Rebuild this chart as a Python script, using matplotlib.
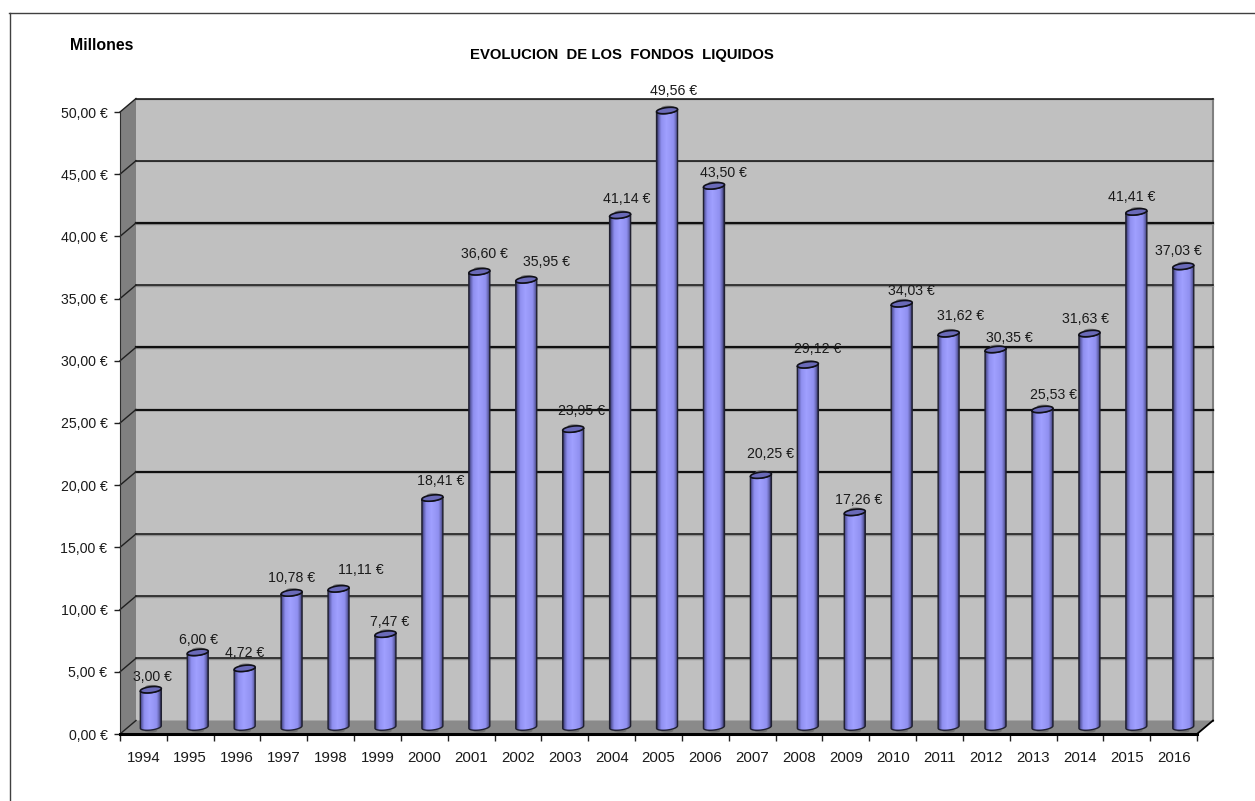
import numpy as np
import matplotlib
matplotlib.use('Agg')
import matplotlib.pyplot as plt
from matplotlib.colors import LinearSegmentedColormap
from matplotlib.patches import Ellipse, PathPatch, Polygon
from matplotlib.path import Path

plt.rcParams['font.family'] = ['Liberation Sans', 'DejaVu Sans']

years = list(range(1994, 2017))
fondos = [3.00, 6.00, 4.72, 10.78, 11.11, 7.47, 18.41, 36.60, 35.95, 23.95, 41.14, 49.56,
          43.50, 20.25, 29.12, 17.26, 34.03, 31.62, 30.35, 25.53, 31.63, 41.41, 37.03]

# labels were moved by hand in the original, pixels from the cylinder top
label_dx = [2, 1, 0, 0, 22, 4, 8, 5, 20, 8, 7, 7, 9, 10, 10, 4, 10, 12, 14, 11, -4, -5, -5]
label_dy = [13, 12, 15, 15, 19, 12, 17, 18, 18, 18, 16, 20, 13, 21, 16, 12, 13, 18, 11, 14, 15, 15, 15]

W, H = 1255, 801
fig = plt.figure(figsize=(W / 100, H / 100), dpi=100, facecolor='white')
left, right, top, bottom = 120, 1197, 112, 734
ax = fig.add_axes([left / W, 1 - bottom / H, (right - left) / W, (bottom - top) / H])
ax.patch.set_visible(False)

px = (right - left) / len(years)
py = (bottom - top) / 50.0
depth_x = 16.0 / px
depth_y = 13.5 / py
n = len(years)

# outer chart frame, only top and left are in the crop
fig.add_artist(plt.Line2D([9 / W, 1], [1 - 12.5 / H, 1 - 12.5 / H], color='#404040', lw=1))
fig.add_artist(plt.Line2D([9.5 / W, 9.5 / W], [0, 1 - 12.5 / H], color='#404040', lw=1))

# walls and floor
ax.add_patch(Polygon([(depth_x, depth_y), (n + depth_x, depth_y), (n + depth_x, 50 + depth_y), (depth_x, 50 + depth_y)],
                     fc='#c0c0c0', ec='none', clip_on=False, zorder=1))
ax.add_patch(Polygon([(0, 0), (depth_x, depth_y), (depth_x, 50 + depth_y), (0, 50)],
                     fc='#808080', ec='none', clip_on=False, zorder=1))
ax.add_patch(Polygon([(0, 0), (n, 0), (n + depth_x, depth_y), (depth_x, depth_y)],
                     fc='#8a8a8a', ec='none', clip_on=False, zorder=1))
ax.plot([n + depth_x, n + depth_x], [depth_y, 50 + depth_y], color='#808080', lw=1.5, clip_on=False, zorder=2)
ax.plot([n, n + depth_x], [0, depth_y], color='black', lw=1.3, clip_on=False, zorder=2)

for v in range(0, 55, 5):
    if v > 0:
        heavy = v in (20, 25, 30, 40)
        ax.plot([depth_x, n + depth_x], [v + depth_y - 0.06] * 2, color='#909090', lw=1, clip_on=False, zorder=2)
        ax.plot([depth_x, n + depth_x], [v + depth_y] * 2, color='#101010', lw=1.6 if heavy else 1.1,
                clip_on=False, zorder=2)
    ax.plot([0, depth_x], [v, v + depth_y], color='#202020', lw=1, clip_on=False, zorder=2)

# cylinders
cyl = LinearSegmentedColormap.from_list('cyl', [(0, '#30305c'), (0.07, '#5c5ca8'), (0.2, '#9090f0'), (0.45, '#a0a0ff'),
                                                (0.8, '#9090f0'), (0.93, '#6060a8'), (1, '#30305c')])
grad = np.linspace(0, 1, 64).reshape(1, -1)
half_w = 10.5 / px
half_h = 3.0 / py
tilt = 1.2 / py
base = 0.56
shift = 7.4 / px
step = (46.93 - px) / px
t = np.linspace(np.pi, 2 * np.pi, 30)
ring = np.linspace(0, 2 * np.pi, 60)

for i, (year, v) in enumerate(zip(years, fondos)):
    xc = i + 0.5 + shift + step * i
    yt = v + base
    low = np.column_stack([xc + half_w * np.cos(t), base + half_h * np.sin(t) + tilt * np.cos(t)])
    upp = np.column_stack([xc + half_w * np.cos(t[::-1]), yt + half_h * np.sin(t[::-1]) + tilt * np.cos(t[::-1])])
    verts = np.vstack([low, upp, low[:1]])
    body = Path(verts, closed=True)
    patch = PathPatch(body, fc='none', ec='#202030', lw=1, clip_on=False, zorder=4)
    ax.add_patch(patch)
    # soft shadow showing through behind the cylinder ends
    ax.add_patch(Ellipse((xc, base - 0.3), half_w * 1.2, half_h * 1.2, fc='#707070', ec='none', clip_on=False, zorder=2.5))
    ax.add_patch(Ellipse((xc + half_w * 0.1, yt + 0.22), half_w * 1.3, half_h * 1.4, fc='#7a7a7a', ec='none', clip_on=False, zorder=2.5))
    im = ax.imshow(grad, cmap=cyl, extent=[xc - half_w, xc + half_w, 0, yt + half_h + tilt], aspect='auto', zorder=3,
                   interpolation='bilinear')
    im.set_clip_box(fig.bbox)
    im.set_clip_path(PathPatch(body, transform=ax.transData))
    cap = np.column_stack([xc + half_w * np.cos(ring), yt + half_h * np.sin(ring) + tilt * np.cos(ring)])
    ax.add_patch(Polygon(cap, fc='#6a6ab8', ec='#101018', lw=1.2, clip_on=False, zorder=5))
    ax.annotate(f'{v:.2f}'.replace('.', ',') + ' €', (xc, yt), xytext=(label_dx[i] * 0.72, label_dy[i] * 0.72),
                textcoords='offset points', ha='center', va='center', fontsize=10.2, color='#1a1a1a', zorder=6,
                annotation_clip=False)

ax.set_xlim(0, n)
ax.set_ylim(0, 50)
ax.set_xticks(range(n + 1))
ax.set_xticklabels([])
ax.set_xticks(np.arange(n) + 0.5, minor=True)
ax.set_xticklabels(years, minor=True, fontsize=10.8, color='#1a1a1a')
ax.tick_params(axis='x', which='major', length=5, width=1, color='#202020')
ax.tick_params(axis='x', which='minor', length=0, pad=12.5)
ax.set_yticks(range(0, 55, 5))
ax.set_yticklabels([f'{v:.2f}'.replace('.', ',') + ' €' for v in range(0, 55, 5)], fontsize=10.2, color='#1a1a1a')
ax.tick_params(axis='y', length=4, width=1, color='#202020', pad=5)
for s in ('top', 'right'):
    ax.spines[s].set_visible(False)
ax.spines['left'].set_color('#303030')
ax.spines['left'].set_zorder(7)
ax.spines['bottom'].set_linewidth(2.2)
ax.spines['bottom'].set_zorder(7)

fig.text(622 / W, 1 - 54.5 / H, 'EVOLUCION  DE LOS  FONDOS  LIQUIDOS', ha='center', va='center',
         fontsize=10.7, fontweight='bold', color='black')
fig.text(70 / W, 1 - 45 / H, 'Millones', ha='left', va='center', fontsize=11.4, fontweight='bold', color='black')

fig.savefig('out.png', dpi=100)
